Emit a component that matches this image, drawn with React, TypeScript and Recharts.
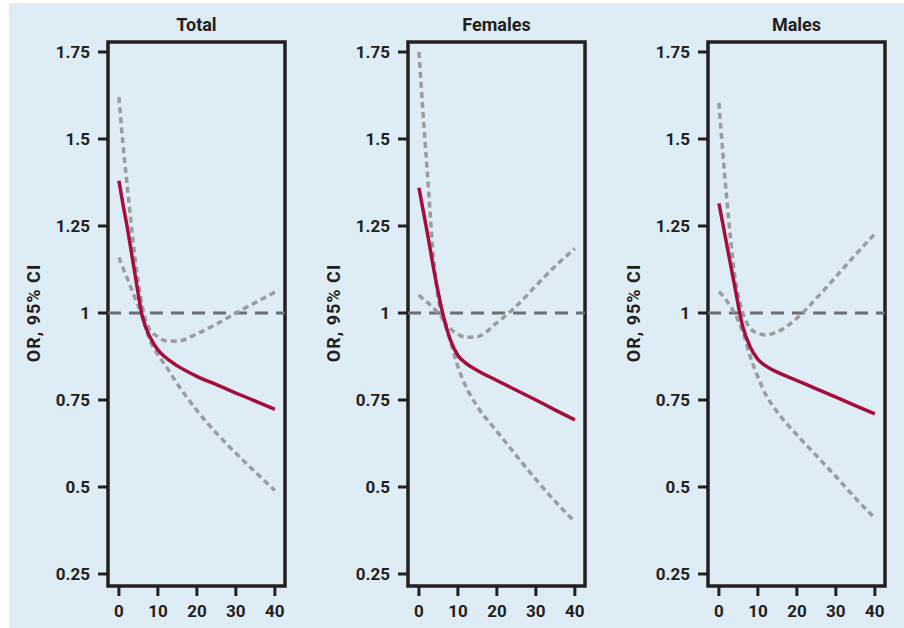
import React from "react";
import { LineChart, Line, XAxis, YAxis, ReferenceLine, ReferenceArea } from "recharts";

// x positions (same for all three panels)
const xs = [0, 1, 2, 4, 6, 8, 10, 12, 15, 20, 25, 30, 35, 40];
const xTicks = [0, 10, 20, 30, 40];
const yTicks = [0.25, 0.5, 0.75, 1, 1.25, 1.5, 1.75];

const totalOr = [1.38, 1.315, 1.255, 1.12, 0.99, 0.93, 0.894, 0.872, 0.848, 0.818, 0.794, 0.77, 0.747, 0.723];
const totalLower = [1.16, 1.131, 1.104, 1.047, 0.99, 0.92, 0.88, 0.848, 0.796, 0.72, 0.655, 0.597, 0.543, 0.49];
const totalUpper = [1.62, 1.49, 1.38, 1.17, 1.018, 0.95, 0.932, 0.92, 0.919, 0.94, 0.968, 1.0, 1.03, 1.06];

const femalesOr = [1.36, 1.3, 1.24, 1.114, 1.004, 0.925, 0.878, 0.856, 0.835, 0.806, 0.778, 0.75, 0.721, 0.693];
const femalesLower = [1.052, 1.041, 1.032, 1.011, 0.985, 0.922, 0.846, 0.79, 0.731, 0.66, 0.59, 0.522, 0.458, 0.4];
const femalesUpper = [1.75, 1.584, 1.428, 1.128, 0.99, 0.956, 0.939, 0.93, 0.932, 0.972, 1.02, 1.078, 1.135, 1.185];

const malesOr = [1.315, 1.257, 1.197, 1.08, 0.966, 0.903, 0.867, 0.848, 0.83, 0.806, 0.782, 0.758, 0.734, 0.71];
const malesLower = [1.061, 1.05, 1.035, 1.0, 0.95, 0.876, 0.816, 0.766, 0.715, 0.65, 0.59, 0.53, 0.468, 0.41];
const malesUpper = [1.604, 1.46, 1.33, 1.112, 1.005, 0.956, 0.942, 0.937, 0.946, 0.985, 1.042, 1.104, 1.167, 1.228];

const titles = ["Total", "Females", "Males"];
const yLabel = "OR, 95% CI";

const X_DOMAIN: [number, number] = [-2.8, 42.6];
const Y_DOMAIN: [number, number] = [0.2155, 1.7787];

const INK = "#231f20";
const FONT = "Roboto, 'Liberation Sans', sans-serif";

const tickStyle = { fill: INK, fontSize: 17, fontWeight: 700, fontFamily: FONT };

interface PanelProps {
  title: string;
  est: number[];
  lower: number[];
  upper: number[];
  left: number;
}

function Panel({ title, est, lower, upper, left }: PanelProps) {
  const data = xs.map((x, i) => ({ x, est: est[i], lower: lower[i], upper: upper[i] }));

  return (
    <div style={{ position: "absolute", left, top: 0, width: 300, height: 628 }}>
      <LineChart width={300} height={628} data={data} margin={{ top: 42, right: 15, bottom: 12, left: 48 }}>
        <XAxis
          dataKey="x"
          type="number"
          domain={X_DOMAIN}
          ticks={xTicks}
          allowDataOverflow
          height={30}
          axisLine={false}
          tickSize={10}
          tickMargin={9}
          tickLine={{ stroke: INK, strokeWidth: 3 }}
          tick={tickStyle}
        />
        <YAxis
          type="number"
          domain={Y_DOMAIN}
          ticks={yTicks}
          allowDataOverflow
          width={60}
          axisLine={false}
          tickSize={10}
          tickMargin={8}
          tickLine={{ stroke: INK, strokeWidth: 3 }}
          tick={tickStyle}
        />
        <ReferenceLine y={1} stroke="#6d6e71" strokeWidth={3} strokeDasharray="13 8" />
        <Line type="monotone" dataKey="upper" stroke="#9b9c9f" strokeWidth={3.5} strokeDasharray="6 4" dot={false} isAnimationActive={false} />
        <Line type="monotone" dataKey="lower" stroke="#9b9c9f" strokeWidth={3.5} strokeDasharray="6 4" dot={false} isAnimationActive={false} />
        <Line type="monotone" dataKey="est" stroke="#a50d3c" strokeWidth={3.5} dot={false} isAnimationActive={false} />
        {/* plot frame */}
        <ReferenceArea
          x1={X_DOMAIN[0]}
          x2={X_DOMAIN[1]}
          y1={Y_DOMAIN[0]}
          y2={Y_DOMAIN[1]}
          fill="none"
          fillOpacity={0}
          stroke={INK}
          strokeWidth={3.5}
        />
      </LineChart>
      <div
        style={{
          position: "absolute",
          left: 108,
          top: 16,
          width: 177,
          textAlign: "center",
          fontFamily: FONT,
          fontWeight: 700,
          fontSize: 18,
          lineHeight: "18px",
          color: INK,
        }}
      >
        {title}
      </div>
      <div
        style={{
          position: "absolute",
          left: 34,
          top: 313,
          transform: "translate(-50%, -50%) rotate(-90deg)",
          whiteSpace: "nowrap",
          fontFamily: FONT,
          fontWeight: 700,
          fontSize: 18,
          lineHeight: "18px",
          letterSpacing: 1,
          color: INK,
        }}
      >
        {yLabel}
      </div>
    </div>
  );
}

export default function App() {
  return (
    <div style={{ position: "absolute", left: 0, top: 0, width: 904, height: 628, background: "#fff", overflow: "hidden" }}>
      <div style={{ position: "absolute", left: 9, top: 3, right: 0, bottom: 0, background: "#deedf5" }} />
      <Panel title={titles[0]} est={totalOr} lower={totalLower} upper={totalUpper} left={0} />
      <Panel title={titles[1]} est={femalesOr} lower={femalesLower} upper={femalesUpper} left={300} />
      <Panel title={titles[2]} est={malesOr} lower={malesLower} upper={malesUpper} left={600} />
    </div>
  );
}
